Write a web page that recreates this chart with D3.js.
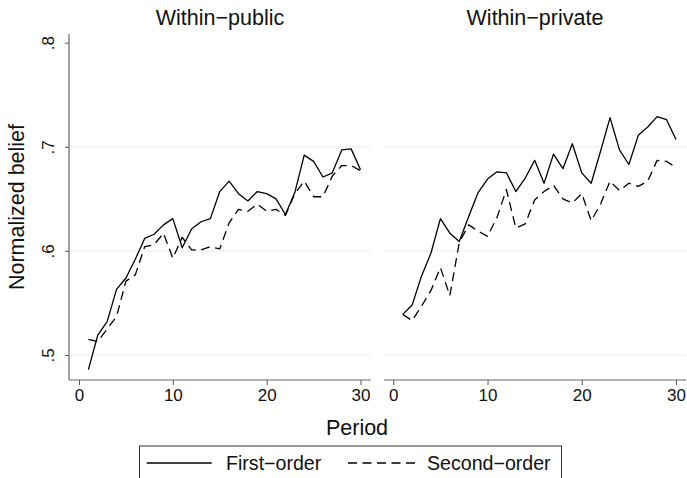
<!DOCTYPE html>
<html>
<head>
<meta charset="utf-8">
<script src="https://cdn.jsdelivr.net/npm/d3@7"></script>
<style>
  html, body { margin: 0; padding: 0; background: #fff; }
  svg { display: block; font-family: "Liberation Sans", Arial, Helvetica, sans-serif; }
</style>
</head>
<body>
<svg id="chart" width="687" height="478"></svg>
<script>
// ---- data ----
const periods = d3.range(1, 31);
const panels = ["Within\u2212public", "Within\u2212private"];
const seriesNames = ["First\u2212order", "Second\u2212order"];
const xTicks = [0, 10, 20, 30];
const yTicks = [0.5, 0.6, 0.7, 0.8];
const yTickLabels = [".5", ".6", ".7", ".8"];
const gridTicks = [0.5, 0.6, 0.7];

const publicFirst = [0.486, 0.519, 0.532, 0.563, 0.574, 0.592, 0.612, 0.616, 0.625, 0.631,
                     0.603, 0.621, 0.628, 0.631, 0.657, 0.667, 0.655, 0.648, 0.657, 0.655,
                     0.650, 0.635, 0.656, 0.692, 0.686, 0.671, 0.675, 0.697, 0.698, 0.678];
const publicSecond = [0.515, 0.513, 0.525, 0.537, 0.571, 0.577, 0.604, 0.606, 0.617, 0.593,
                      0.613, 0.601, 0.601, 0.604, 0.602, 0.627, 0.640, 0.638, 0.645, 0.638,
                      0.640, 0.634, 0.655, 0.667, 0.652, 0.652, 0.672, 0.682, 0.682, 0.677];
const privateFirst = [0.539, 0.548, 0.576, 0.598, 0.631, 0.617, 0.609, 0.633, 0.656, 0.669,
                      0.676, 0.675, 0.657, 0.670, 0.687, 0.665, 0.693, 0.679, 0.703, 0.675,
                      0.665, 0.696, 0.728, 0.697, 0.683, 0.711, 0.719, 0.729, 0.726, 0.707];
const privateSecond = [0.539, 0.533, 0.547, 0.562, 0.584, 0.557, 0.608, 0.625, 0.619, 0.614,
                       0.632, 0.659, 0.622, 0.626, 0.649, 0.657, 0.663, 0.650, 0.646, 0.655,
                       0.629, 0.645, 0.667, 0.658, 0.665, 0.662, 0.667, 0.687, 0.686, 0.680];

const panelData = [[publicFirst, publicSecond], [privateFirst, privateSecond]];

// ---- layout ----
const svg = d3.select("#chart");
const font = "'Liberation Sans', Arial, Helvetica, sans-serif";
const plotTop = 34, plotBottom = 380;
const panelBoxes = [{ x0: 69, x1: 371, r0: 79, r1: 360.5 },
                    { x0: 384, x1: 686, r0: 393.3, r1: 676 }];
const y = d3.scaleLinear().domain([0.5, 0.8]).range([355, 42.7]);
const dashes = ["none", "9,5.5"];

panelBoxes.forEach((b, i) => {
  const x = d3.scaleLinear().domain([0, 30]).range([b.r0, b.r1]);
  const g = svg.append("g");

  // gridlines
  g.selectAll("line.grid").data(gridTicks).enter().append("line")
    .attr("x1", b.x0).attr("x2", b.x1)
    .attr("y1", d => y(d)).attr("y2", d => y(d))
    .attr("stroke", "#e6eeee").attr("stroke-width", 1);

  // x axis
  const xAxis = d3.axisBottom(x).tickValues(xTicks).tickSize(5).tickPadding(4).tickFormat(d3.format("d"));
  const xg = g.append("g").attr("transform", `translate(0,${plotBottom})`).call(xAxis);
  xg.select(".domain").remove();
  xg.selectAll(".tick line").attr("stroke", "#555");
  xg.selectAll(".tick text").attr("font-size", 17).attr("font-family", font).attr("fill", "#111")
    .attr("dy", null).attr("y", 21);
  g.append("line").attr("x1", b.x0).attr("x2", b.x1).attr("y1", plotBottom).attr("y2", plotBottom)
    .attr("stroke", "#666").attr("stroke-width", 1.2);

  // y axis (left panel only)
  if (i === 0) {
    const yAxis = d3.axisLeft(y).tickValues(yTicks).tickSize(4).tickFormat((d, k) => yTickLabels[k]);
    const yg = g.append("g").attr("transform", `translate(${b.x0},0)`).call(yAxis);
    yg.select(".domain").remove();
    yg.selectAll(".tick line").attr("stroke", "#555");
    yg.selectAll(".tick text").attr("font-size", 17).attr("font-family", font).attr("fill", "#111")
      .attr("x", null).attr("dy", null)
      .attr("text-anchor", "middle")
      .attr("transform", "translate(-15,0) rotate(-90)");
    g.append("line").attr("x1", b.x0).attr("x2", b.x0).attr("y1", plotTop).attr("y2", plotBottom)
      .attr("stroke", "#666").attr("stroke-width", 1.2);
  }

  // lines
  const line = d3.line().x((d, k) => x(periods[k])).y(d => y(d));
  panelData[i].forEach((vals, s) => {
    g.append("path").datum(vals).attr("d", line)
      .attr("fill", "none").attr("stroke", "#000").attr("stroke-width", 1.3)
      .attr("stroke-dasharray", dashes[s]).attr("stroke-linejoin", "round");
  });

  // title
  g.append("text").attr("x", (b.x0 + b.x1) / 2).attr("y", 24.5)
    .attr("text-anchor", "middle").attr("font-size", 21.5).attr("font-family", font)
    .attr("fill", "#111").text(panels[i]);
});

// axis titles
svg.append("text").attr("x", 357).attr("y", 434.5).attr("text-anchor", "middle")
  .attr("font-size", 21.5).attr("font-family", font).attr("fill", "#111").text("Period");
svg.append("text").attr("transform", "translate(23.5,207) rotate(-90)").attr("text-anchor", "middle")
  .attr("font-size", 21.5).attr("font-family", font).attr("fill", "#111").text("Normalized belief");

// legend
const leg = svg.append("g");
leg.append("rect").attr("x", 139.5).attr("y", 446).attr("width", 422).attr("height", 40)
  .attr("fill", "#fff").attr("stroke", "#333").attr("stroke-width", 1);
const legItems = [{ lx0: 146.7, lx1: 211.7, tx: 226 }, { lx0: 348, lx1: 415, tx: 427 }];
legItems.forEach((it, s) => {
  leg.append("line").attr("x1", it.lx0).attr("x2", it.lx1).attr("y1", 463).attr("y2", 463)
    .attr("stroke", "#000").attr("stroke-width", 1.3).attr("stroke-dasharray", dashes[s]);
  leg.append("text").attr("x", it.tx).attr("y", 470).attr("font-size", 19.6).attr("font-family", font)
    .attr("fill", "#111").text(seriesNames[s]);
});
</script>
</body>
</html>
